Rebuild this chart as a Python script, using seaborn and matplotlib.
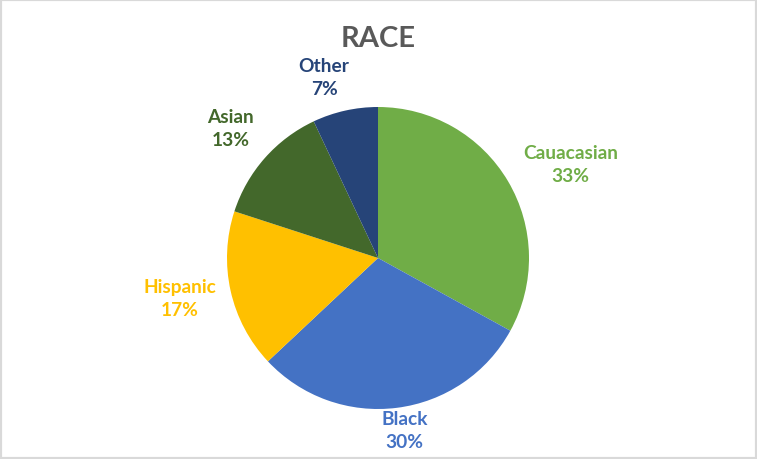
import matplotlib
matplotlib.use("Agg")
import matplotlib.pyplot as plt
import seaborn as sns
import numpy as np

categories = ["Cauacasian", "Black", "Hispanic", "Asian", "Other"]
values = [33, 30, 17, 13, 7]
colors = ["#70AD47", "#4472C4", "#FFC000", "#43682B", "#264478"]

sns.set_theme(style="white")
plt.rcParams['font.family'] = ['Lato', 'DejaVu Sans']

W, H = 757, 460
fig = plt.figure(figsize=(W / 100, H / 100), dpi=100)
ax = fig.add_axes([0, 0, 1, 1])

cx, cy, r = 378, H - 259, 151
wedges, _ = ax.pie(values, colors=colors, startangle=90, counterclock=False,
                   center=(cx, cy), radius=r, frame=True,
                   wedgeprops=dict(linewidth=0))
ax.set_xlim(0, W)
ax.set_ylim(0, H)
ax.set_aspect("equal")
ax.axis("off")

# label distances (multiples of radius) along each wedge's mid-angle
dists = [1.42, 1.15, 1.34, 1.30, 1.25]
angle_adj = [-4.5, 1.5, -1.2, 0, 4]
for w, cat, v, col, d, adj in zip(wedges, categories, values, colors, dists, angle_adj):
    ang = np.deg2rad((w.theta1 + w.theta2) / 2 + adj)
    x = cx + d * r * np.cos(ang)
    y = cy + d * r * np.sin(ang)
    ax.text(x, y, f"{cat}\n{v}%", ha="center", va="center", color=col,
            fontsize=13.8, fontweight="bold", linespacing=1.42)

fig.text(378 / W, 1 - 39 / H, "RACE", ha="center", va="center",
         fontsize=21, fontweight="bold", color="#595959")

border = plt.Rectangle((0, 0), 1, 1, transform=fig.transFigure, fill=False,
                       edgecolor="#D9D9D9", linewidth=3)
fig.patches.append(border)

fig.savefig("out.png", dpi=100, facecolor="white")
